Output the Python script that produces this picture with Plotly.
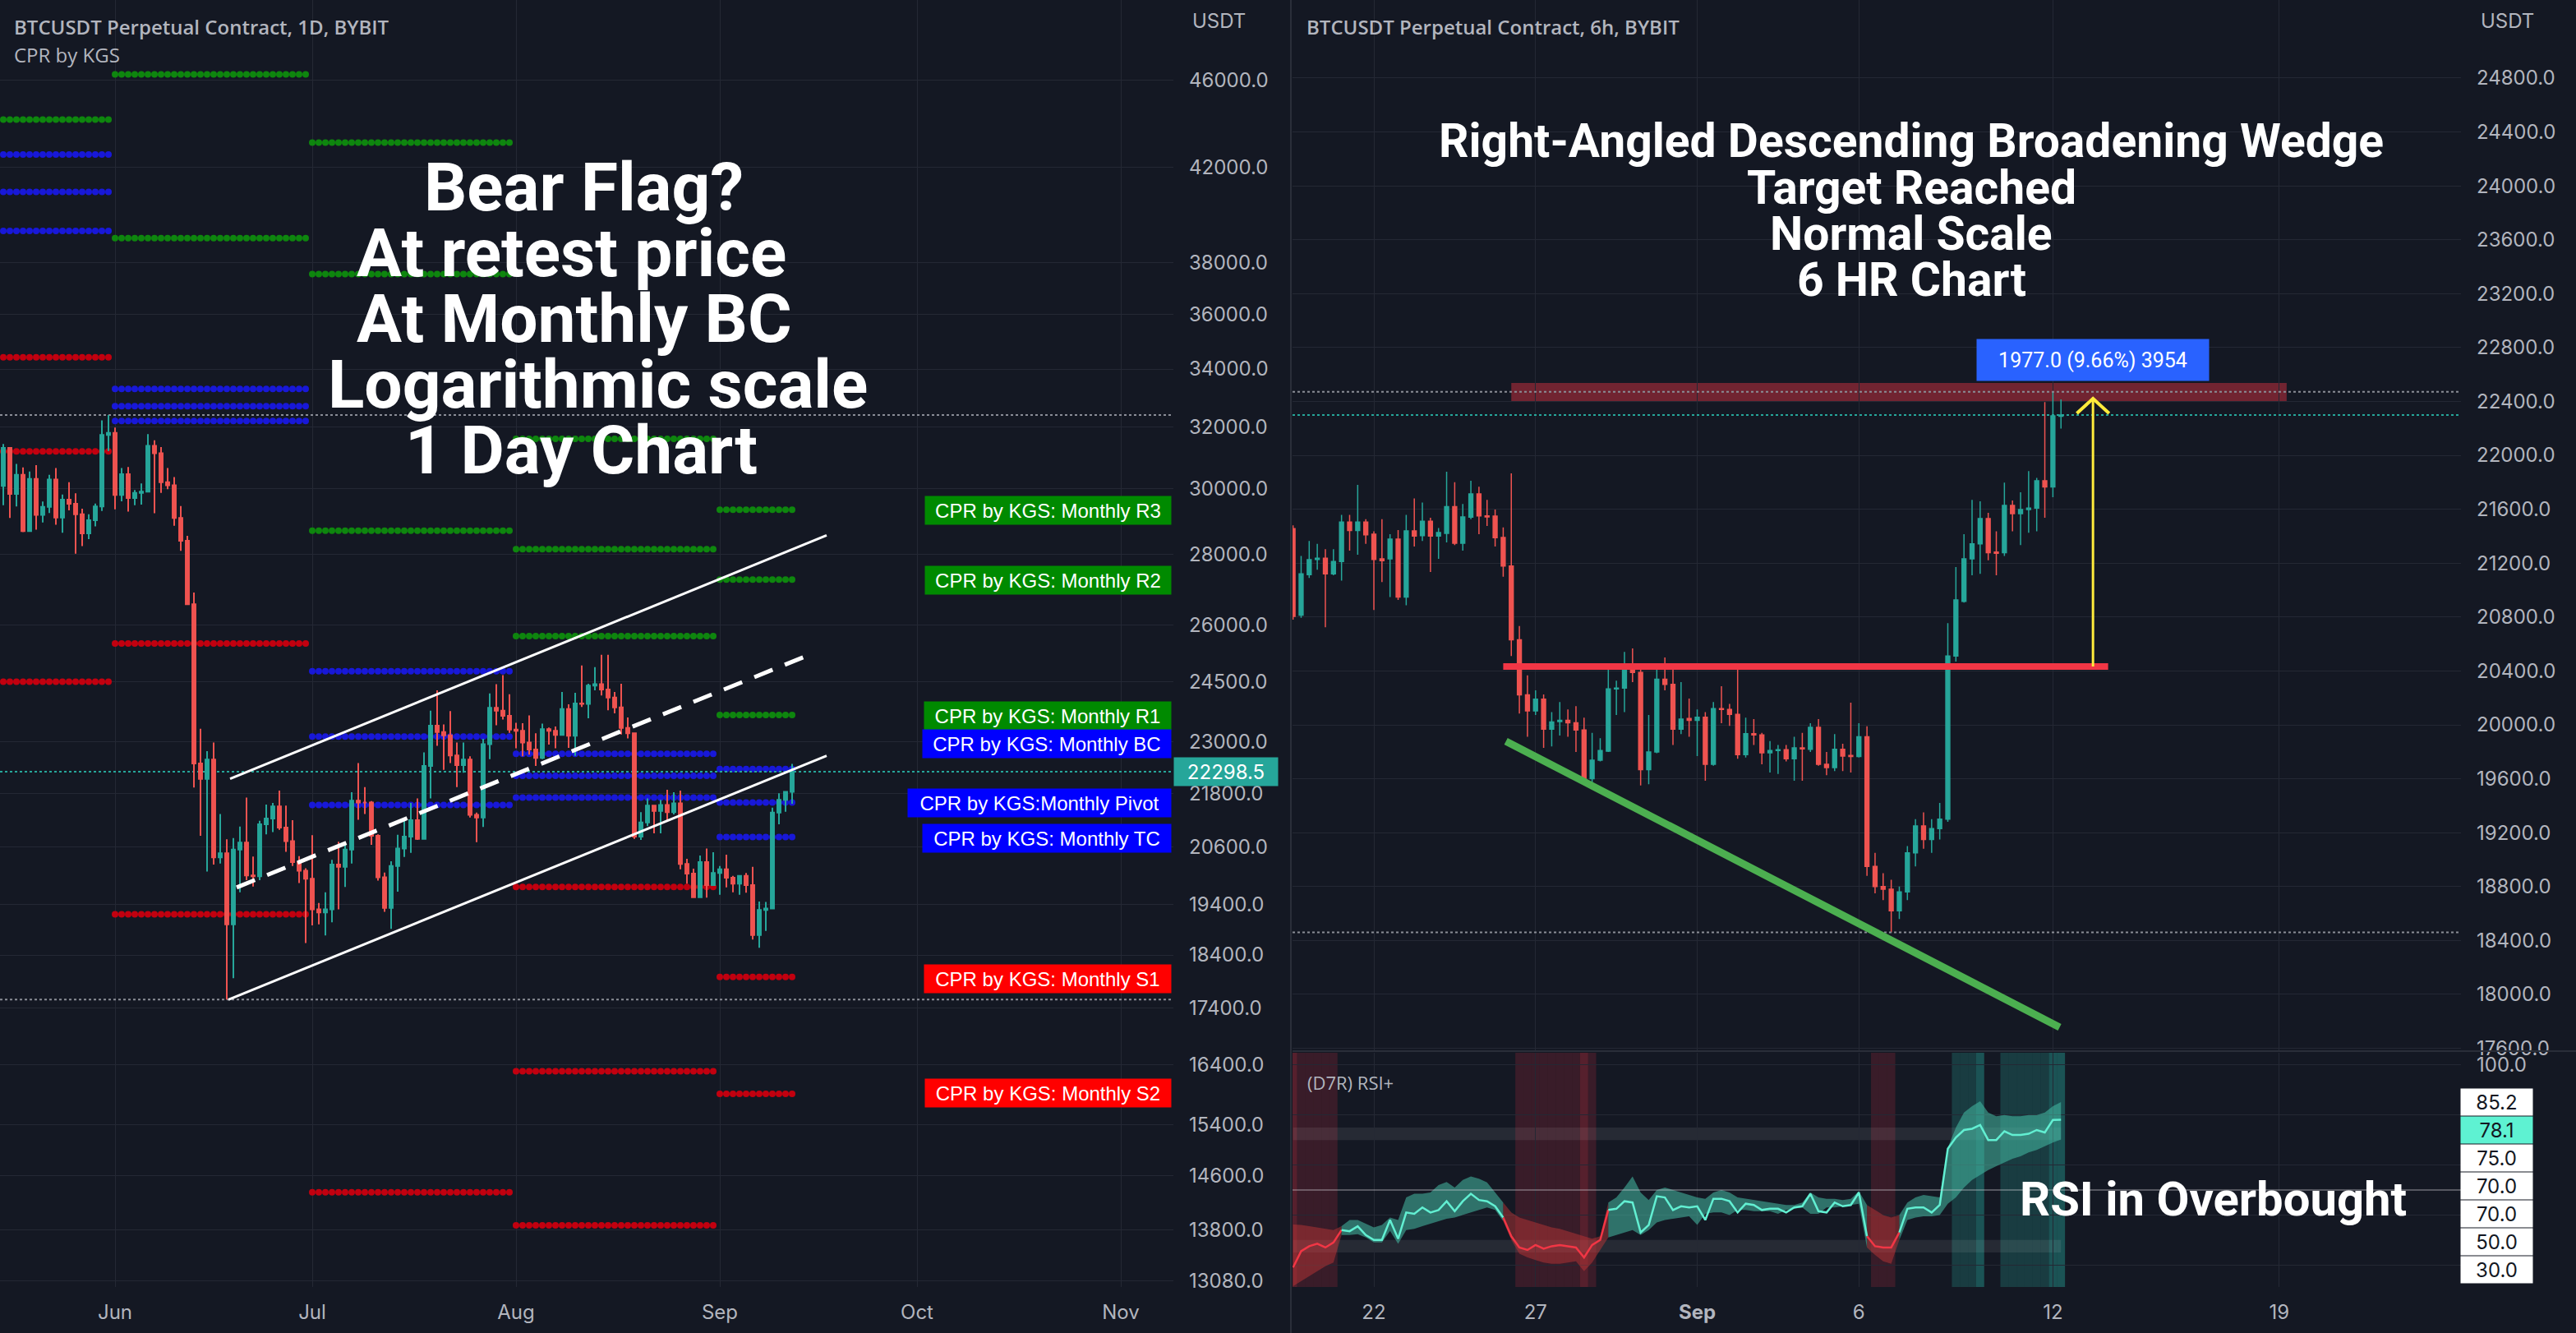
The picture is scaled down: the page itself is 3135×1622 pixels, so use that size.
import numpy as np
import pandas as pd
import plotly.graph_objects as go

W, H = 3135, 1622
BG = "#141823"
GRID = "#242834"
TXT = "#b2b5be"
UP = "#26a69a"
DN = "#ef5350"

def px(x):
    return x / W

def py(y):
    return 1 - y / H

# ---------------- LEFT PANEL DATA: BTCUSDT 1D (log scale) ----------------
d_start = "2022-05-14"
d_open = [29280, 30080, 31300, 29830, 30430, 28690, 30300, 29180, 29430, 30280, 29100, 29650, 29520, 29200, 28620, 29020, 29440, 31730,
          31800, 29800, 30450, 29700, 29860, 29900, 31370, 31130, 30200, 30100, 29090, 28400, 26570, 22490, 22130, 22580, 20380, 20470, 19000, 20550, 20700, 20000, 19980, 21100, 21230, 21500, 21030, 20730, 20280, 20100,
          19930, 19300, 19240, 19300, 20230, 20180, 20550, 21630, 21590, 21590, 20850, 19960, 19330, 20200, 20570, 20830, 21190, 20780, 22430, 23400, 23240, 23160, 22680, 22450, 22580, 21310, 21250, 22950, 23840, 23770, 23640,
          23300, 23270, 22990, 22820, 22620, 23310, 23270, 23170, 23810, 23150, 23950, 23940, 24400, 24440, 24300, 24100, 23850, 23340, 23210, 20830, 21140, 21520, 21400, 21530, 21370, 21570, 20240, 20040, 19550, 20280, 19800,
          20050, 20130, 19950, 19830, 19990, 19800, 18790, 19290, 19320, 21360, 21650, 21830]
d_high = [30300, 31430, 31300, 30780, 30670, 30540, 30740, 29590, 30430, 30650, 29810, 30200, 29850, 29370, 29200, 29530, 32220, 32400,
          31980, 30650, 30680, 29950, 30160, 31760, 31550, 31330, 30650, 30360, 29450, 28550, 26900, 23320, 22780, 22990, 21330, 20770, 20800, 21050, 21700, 20400, 21180, 21540, 21580, 21860, 21520, 21190, 20410, 20150,
          20860, 19430, 19650, 20330, 20720, 20650, 21820, 22500, 21940, 21620, 20880, 20060, 20300, 20870, 21180, 21580, 21680, 22750, 23770, 24280, 23430, 23760, 22990, 22990, 22660, 21360, 23080, 24200, 24440, 24670, 24180,
          23470, 23460, 23650, 23210, 23450, 23350, 23380, 24240, 23930, 24220, 24920, 24450, 24880, 25200, 25200, 24240, 24450, 23600, 23210, 21370, 21680, 21520, 21650, 21880, 21820, 21860, 20350, 20140, 20420, 20570, 20490,
          20200, 20440, 19990, 20000, 20050, 20180, 19460, 19450, 21470, 21800, 21850, 22480]
d_low = [28630, 29480, 29090, 29440, 28660, 28670, 28730, 28950, 29240, 28880, 28640, 29320, 28020, 28240, 28450, 28830, 29300, 31200,
         29350, 29600, 29280, 29480, 29500, 29880, 29230, 29860, 29980, 28850, 28100, 26560, 21930, 20850, 20080, 20230, 20250, 17560, 17960, 19650, 19900, 19770, 19900, 20880, 20930, 20980, 20500, 20200, 19840, 18630,
         18980, 19000, 18780, 19040, 19300, 19760, 20250, 21200, 21330, 20650, 19890, 19250, 18910, 19660, 20390, 20480, 20760, 20770, 21680, 22910, 22340, 22500, 21940, 22270, 21250, 20710, 21040, 22590, 23410, 23550, 23220,
         22850, 22660, 22700, 22430, 22590, 22940, 22850, 23160, 22860, 22670, 23860, 23580, 24280, 24150, 23780, 23700, 23180, 23090, 20780, 20760, 21060, 20900, 20900, 21160, 21320, 20130, 19830, 19550, 19550, 19540, 19800,
         19600, 19750, 19650, 19600, 19640, 18700, 18540, 18870, 19300, 21100, 21380, 21560]
d_close = [30080, 31300, 29830, 30430, 28690, 30300, 29180, 29430, 30280, 29100, 29650, 29520, 29200, 28620, 29020, 29440, 31730, 31800,
           29800, 30450, 29700, 29860, 29900, 31370, 31130, 30200, 30100, 29090, 28400, 26570, 22490, 22130, 22580, 20380, 20470, 19000, 20550, 20700, 20000, 19980, 21100, 21230, 21500, 21030, 20730, 20280, 20100, 19930,
           19300, 19240, 19300, 20230, 20180, 20550, 21630, 21590, 21590, 20850, 19960, 19330, 20200, 20570, 20830, 21190, 20780, 22430, 23400, 23240, 23160, 22680, 22450, 22580, 21310, 21250, 22950, 23840, 23770, 23640, 23300,
           23270, 22990, 22820, 22620, 23310, 23270, 23170, 23810, 23150, 23950, 23940, 24400, 24440, 24300, 24100, 23850, 23340, 23210, 20830, 21140, 21520, 21400, 21530, 21370, 21570, 20240, 20040, 19550, 20280, 19800, 20050,
           20130, 19950, 19830, 19990, 19800, 18790, 19290, 19320, 21360, 21650, 21830, 22298.5]

# Monthly CPR levels (None = off chart)
cpr_month_start = ["2022-05-01", "2022-06-01", "2022-07-01", "2022-08-01", "2022-09-01"]
cpr_month_end = ["2022-05-31", "2022-06-30", "2022-07-31", "2022-08-31", "2022-09-12"]
cpr_r3 = [None, None, 43100, 31600, 29340]
cpr_r2 = [None, 46300, 37560, 28150, 27270]
cpr_r1 = [44160, 39000, 28700, 25700, 23660]
cpr_bc = [42570, 33300, 24770, 21700, 22360]
cpr_pivot = [40930, 32700, 23130, 22200, 21590]
cpr_tc = [39290, 32200, 21530, 22720, 20820]
cpr_s1 = [34420, 25500, 14350, 19760, 17980]
cpr_s2 = [31190, 19200, None, 16290, 15910]
cpr_s3 = [24500, None, None, 13860, None]

left_price_ticks = [46000, 42000, 38000, 36000, 34000, 32000, 30000, 28000, 26000, 24500, 23000, 21800,
                    20600, 19400, 18400, 17400, 16400, 15400, 14600, 13800, 13080]
left_month_ticks = ["2022-06-01", "2022-07-01", "2022-08-01", "2022-09-01", "2022-10-01", "2022-11-01"]
left_month_labels = ["Jun", "Jul", "Aug", "Sep", "Oct", "Nov"]

# channel drawings
chan_lower_t = ["2022-06-18 06:00", "2022-09-17 06:00"]
chan_lower_p = [17560, 22670]
chan_upper_t = ["2022-06-18 12:00", "2022-09-17 06:00"]
chan_upper_p = [22130, 28560]
chan_mid_t = ["2022-06-19 12:00", "2022-09-13 18:00"]
chan_mid_p = [19750, 25140]

cpr_label_text = ["CPR by KGS: Monthly R3", "CPR by KGS: Monthly R2", "CPR by KGS: Monthly R1", "CPR by KGS: Monthly BC",
                  "CPR by KGS:Monthly Pivot", "CPR by KGS: Monthly TC", "CPR by KGS: Monthly S1", "CPR by KGS: Monthly S2"]
cpr_label_color = ["#008a00", "#008a00", "#008a00", "#0000ff", "#0000ff", "#0000ff", "#ff0000", "#ff0000"]

left_text_lines = ["Bear Flag?", "At retest price", "At Monthly BC", "Logarithmic scale", "1 Day Chart"]

# ---------------- RIGHT PANEL DATA: BTCUSDT 6h ----------------
h6_start = "2022-08-19 12:00"
h6_open = [21456, 20815, 21114, 21228, 21236, 21120, 21212, 21505, 21442, 21505,
           21415, 21232, 21232, 21379, 20948, 21440, 21405, 21511, 21401, 21421,
           21619, 21348, 21541, 21714, 21551, 21549, 21391, 21179, 20632, 20222,
           20104, 20191, 19968, 20024, 20033, 20016, 19962, 19600, 19738, 19805,
           20267, 20273, 20439, 20389, 19667, 19799, 20338, 20301, 19968, 20047,
           20033, 20057, 19708, 20120, 20114, 20078, 19779, 19935, 19925, 19793,
           19809, 19815, 19748, 19830, 19819, 19982, 19708, 19683, 19819, 19773,
           19765, 19911, 18950, 18800, 18780, 18620, 18760, 19050, 19250, 19150,
           19230, 19300, 20511, 20917, 21232, 21344, 21531, 21283, 21277, 21629,
           21568, 21598, 21608, 21812, 21765, 22290]
h6_high = [21480, 21253, 21364, 21344, 21303, 21303, 21558, 21558, 21781, 21527,
           21436, 21527, 21415, 21446, 21558, 21680, 21649, 21537, 21460, 21879,
           21801, 21639, 21812, 21767, 21669, 21598, 21466, 21867, 20734, 20368,
           20256, 20226, 20094, 20169, 20114, 20139, 20053, 19941, 19901, 20419,
           20328, 20541, 20567, 20409, 20073, 20450, 20500, 20409, 20317, 20195,
           20114, 20094, 20169, 20287, 20155, 20429, 20053, 20043, 19941, 19880,
           19850, 19850, 19911, 19941, 20012, 20043, 19799, 19931, 19860, 20165,
           20012, 19990, 19050, 18900, 18850, 18800, 19100, 19300, 19350, 19300,
           19420, 20755, 21171, 21415, 21669, 21659, 21574, 21436, 21797, 21665,
           21726, 21883, 21832, 22395, 22472, 22415]
h6_low = [20780, 20795, 21090, 21151, 20724, 21110, 21070, 21293, 21263, 21344,
          20852, 21059, 20948, 20927, 20887, 21324, 21364, 21135, 21232, 21354,
          21334, 21293, 21527, 21415, 21476, 21324, 21100, 20511, 20084, 19911,
          20073, 19830, 19840, 19921, 19911, 19799, 19560, 19540, 19728, 19799,
          20073, 20094, 20317, 19550, 19560, 19789, 20256, 19850, 19931, 19911,
          19769, 19586, 19697, 20012, 19992, 19748, 19758, 19850, 19708, 19646,
          19636, 19728, 19586, 19586, 19799, 19697, 19626, 19657, 19657, 19646,
          19758, 18880, 18750, 18700, 18460, 18560, 18700, 18950, 19080, 19050,
          19150, 19280, 20470, 20907, 21110, 21120, 21222, 21110, 21253, 21436,
          21334, 21425, 21436, 21537, 21690, 22198]
h6_close = [20805, 21120, 21226, 21236, 21120, 21212, 21505, 21442, 21505, 21411,
            21228, 21218, 21379, 20948, 21440, 21401, 21511, 21401, 21427, 21619,
            21348, 21543, 21714, 21551, 21543, 21389, 21179, 20632, 20222, 20104,
            20191, 19968, 20022, 20033, 20016, 19962, 19600, 19738, 19809, 20267,
            20273, 20409, 20389, 19667, 19799, 20338, 20301, 19968, 20043, 20033,
            20057, 19708, 20120, 20114, 20078, 19779, 19935, 19925, 19793, 19809,
            19815, 19748, 19830, 19821, 19982, 19708, 19683, 19819, 19769, 19765,
            19911, 18950, 18800, 18780, 18620, 18760, 19050, 19250, 19150, 19230,
            19300, 20511, 20927, 21232, 21344, 21531, 21277, 21273, 21629, 21568,
            21598, 21608, 21812, 21765, 22293, 22298.5]

right_price_ticks = [24800, 24400, 24000, 23600, 23200, 22800, 22400, 22000, 21600, 21200, 20800, 20400,
                     20000, 19600, 19200, 18800, 18400, 18000, 17600]
right_day_ticks = ["2022-08-22", "2022-08-27", "2022-09-01", "2022-09-06", "2022-09-12", "2022-09-19"]
right_day_labels = ["22", "27", "<b>Sep</b>", "6", "12", "19"]

res_t = ["2022-08-26 00:00", "2022-09-13 17:00"]
res_p = [20433, 20433]
sup_t = ["2022-08-26 02:00", "2022-09-12 05:00"]
sup_p = [19878, 17756]
zone_t = ["2022-08-26 06:00", "2022-09-19 05:30"]
zone_p = [22403, 22537]
arrow_t = "2022-09-13 05:45"
arrow_p = [20433, 22421]
measure_text = "1977.0 (9.66%) 3954"
measure_p = 22708

right_text_lines = ["Right-Angled Descending Broadening Wedge", "Target Reached", "Normal Scale", "6 HR Chart"]

# RSI (D7R RSI+) per 6h bar
rsi = [19, 25.5, 27.5, 28.5, 27, 29, 34, 33.5, 35.5, 32,
       30, 30, 38, 30.5, 41, 40.5, 43, 41, 42, 45.5,
       41.5, 45.5, 48.5, 46, 45.5, 43.5, 39, 31.5, 27, 26,
       28, 26.5, 27.5, 28, 27.5, 27, 23, 28, 30, 42,
       42.5, 45.5, 45, 33, 36, 47.5, 47, 42, 43.5, 43,
       43.5, 38, 46.5, 46.5, 45.5, 41, 44.5, 44, 42, 42.5,
       42.5, 41, 43, 43.5, 48.5, 41.5, 41, 45, 43.5, 44,
       49, 31.5, 27.5, 27, 27, 33, 42.5, 43, 43, 41,
       44, 66.5, 71, 74, 74.5, 76, 70, 70, 73.5, 72,
       72, 72.5, 74, 73, 78, 78.1]
rsi_upper = [36.2, 36, 35.5, 35, 34.5, 34,
             35.5, 38, 38, 36.5, 35, 36, 39, 38,
             47, 48.5, 48.5, 49, 52, 53.2, 51, 54, 55.4, 54.5, 53, 49,
             45, 41, 39, 38, 37, 36, 35, 34.5, 33.5, 32.5, 31.5, 30.5, 31.5,
             45, 47, 51, 55.4, 49, 46, 50, 51, 50, 49, 48, 47, 46.5, 49, 50, 49, 47, 46.5, 46, 45.5,
             45, 44.5, 44, 44, 45, 49, 47, 46.5, 46.5, 46, 46.5, 49.5,
             44, 42, 40, 39,
             40, 45, 47, 48, 47.5, 47, 66.9, 75, 81, 83.5, 85.5, 81, 79.5, 80, 79.5, 79.5, 80, 80, 81, 83.5, 85.2]
rsi_lower = [11.5, 13.5, 15.5, 17.5, 19.5, 21,
             32, 32, 32.3, 31, 29, 29, 33.6, 28.5,
             34, 34.5, 35.5, 36.5, 37.5, 38.5, 39, 40, 41, 42, 43, 42,
             37.5, 30, 24.5, 23, 22, 21, 20.5, 20.5, 21, 21.5, 17.5, 21, 26,
             31, 32, 33, 34, 32, 34, 37, 38, 38.5, 39, 39.5, 36, 40.5, 41, 41, 40, 42, 42, 41.5, 41.5,
             41.5, 40.5, 42, 42.5, 43, 40.5, 40.5, 43, 43, 43.5, 44, 44.5,
             27, 24, 21.5, 20.5,
             30, 38, 39, 39.5, 39.5, 40, 44.5, 47, 51, 54, 56, 58, 59.5, 61, 62.5, 63.5, 65, 66, 67.5, 69, 70.2]
rsi_zone_start = [0, 6, 26, 39, 71, 75]
rsi_zone_state = ["dn", "up", "dn", "up", "dn", "up"]
rsi_badges = ["85.2", "78.1", "75.0", "70.0", "70.0", "50.0", "30.0"]

# ---------------- BUILD ----------------
d_dates = pd.date_range(d_start, periods=len(d_close), freq="D")
h6_times = pd.date_range(h6_start, periods=len(h6_close), freq="6h")

lx0 = pd.Timestamp("2022-06-01") - pd.Timedelta(days=17.5)
lx1 = pd.Timestamp("2022-06-01") + pd.Timedelta(days=161)
ly_lo, ly_hi = 12994, 50050
rx0 = pd.Timestamp("2022-08-22") - pd.Timedelta(days=2.516)
rx1 = pd.Timestamp("2022-08-22") + pd.Timedelta(days=33.62)
ry_lo, ry_hi = 17579, 25379

fig = go.Figure()

# CPR dots (drawn on base y axis so candles overlay them)
groups = [([cpr_r3, cpr_r2, cpr_r1], "#0e860e"),
          ([cpr_bc, cpr_pivot, cpr_tc], "#1818d8"),
          ([cpr_s1, cpr_s2, cpr_s3], "#c2000f")]
for levels, color in groups:
    xs, ys = [], []
    for m in range(len(cpr_month_start)):
        days = pd.date_range(cpr_month_start[m], cpr_month_end[m], freq="D")
        for lev in levels:
            if lev[m] is not None:
                xs.extend(days)
                ys.extend([lev[m]] * len(days))
    fig.add_trace(go.Scatter(x=xs, y=ys, mode="markers", marker=dict(size=8, color=color, line=dict(width=0)),
                             xaxis="x", yaxis="y", hoverinfo="skip"))

# dotted hi / lo / last lines (left)
for val, col in [(max(d_high), "#8a8d96"), (min(d_low), "#8a8d96"), (d_close[-1], UP)]:
    fig.add_trace(go.Scatter(x=[lx0, lx1], y=[val, val], mode="lines",
                             line=dict(color=col, width=2, dash="dot"), xaxis="x", yaxis="y", hoverinfo="skip"))

# left candles on overlay axis
fig.add_trace(go.Candlestick(x=d_dates, open=d_open, high=d_high, low=d_low, close=d_close,
                             increasing=dict(line=dict(color=UP, width=2), fillcolor=UP),
                             decreasing=dict(line=dict(color=DN, width=2), fillcolor=DN),
                             whiskerwidth=0, xaxis="x", yaxis="y4", hoverinfo="skip"))
# channel
fig.add_trace(go.Scatter(x=chan_lower_t, y=chan_lower_p, mode="lines", line=dict(color="white", width=3),
                         xaxis="x", yaxis="y4", hoverinfo="skip"))
fig.add_trace(go.Scatter(x=chan_upper_t, y=chan_upper_p, mode="lines", line=dict(color="white", width=3),
                         xaxis="x", yaxis="y4", hoverinfo="skip"))
fig.add_trace(go.Scatter(x=chan_mid_t, y=chan_mid_p, mode="lines", line=dict(color="white", width=5, dash="24px,16px"),
                         xaxis="x", yaxis="y4", hoverinfo="skip"))

# right: dotted lines
for val, col in [(max(h6_high), "#8a8d96"), (min(h6_low), "#8a8d96"), (h6_close[-1], UP)]:
    fig.add_trace(go.Scatter(x=[rx0, rx1], y=[val, val], mode="lines",
                             line=dict(color=col, width=2, dash="dot"), xaxis="x2", yaxis="y2", hoverinfo="skip"))

fig.add_trace(go.Candlestick(x=h6_times, open=h6_open, high=h6_high, low=h6_low, close=h6_close,
                             increasing=dict(line=dict(color=UP, width=1.5), fillcolor=UP),
                             decreasing=dict(line=dict(color=DN, width=1.5), fillcolor=DN),
                             whiskerwidth=0, xaxis="x2", yaxis="y2", hoverinfo="skip"))
fig.add_trace(go.Scatter(x=res_t, y=res_p, mode="lines", line=dict(color="#f23645", width=8),
                         xaxis="x2", yaxis="y2", hoverinfo="skip"))
fig.add_trace(go.Scatter(x=sup_t, y=sup_p, mode="lines", line=dict(color="#4caf50", width=9),
                         xaxis="x2", yaxis="y2", hoverinfo="skip"))
at = pd.Timestamp(arrow_t)
half = pd.Timedelta(hours=12)
fig.add_trace(go.Scatter(x=[at, at], y=arrow_p, mode="lines", line=dict(color="#ffeb3b", width=3),
                         xaxis="x2", yaxis="y2", hoverinfo="skip"))
fig.add_trace(go.Scatter(x=[at - half, at, at + half], y=[arrow_p[1] - 110, arrow_p[1], arrow_p[1] - 110], mode="lines",
                         line=dict(color="#ffeb3b", width=4), xaxis="x2", yaxis="y2", hoverinfo="skip"))

# RSI fills & line
n = len(rsi)
for k, s in enumerate(rsi_zone_start):
    e = rsi_zone_start[k + 1] if k + 1 < len(rsi_zone_start) else n - 1
    sl = slice(s, e + 1)
    up = rsi_zone_state[k] == "up"
    fill = "rgba(70,190,165,0.55)" if up else "rgba(200,55,55,0.45)"
    fig.add_trace(go.Scatter(x=h6_times[sl], y=rsi_lower[sl], mode="lines", line=dict(width=0),
                             xaxis="x3", yaxis="y3", hoverinfo="skip"))
    fig.add_trace(go.Scatter(x=h6_times[sl], y=rsi_upper[sl], mode="lines", line=dict(width=0),
                             fill="tonexty", fillcolor=fill, xaxis="x3", yaxis="y3", hoverinfo="skip"))
for k, s in enumerate(rsi_zone_start):
    e = rsi_zone_start[k + 1] if k + 1 < len(rsi_zone_start) else n - 1
    sl = slice(s, e + 1)
    up = rsi_zone_state[k] == "up"
    fig.add_trace(go.Scatter(x=h6_times[sl], y=rsi[sl], mode="lines",
                             line=dict(color="#62efd2" if up else "#f23645", width=2.5),
                             xaxis="x3", yaxis="y3", hoverinfo="skip"))

shapes = []
# RSI background columns
for t, v in zip(h6_times, rsi):
    col = None
    if v > 75:
        col = "rgba(38,166,154,0.42)"
    elif v > 70:
        col = "rgba(38,166,154,0.25)"
    elif v < 25:
        col = "rgba(242,54,69,0.30)"
    elif v < 30:
        col = "rgba(242,54,69,0.17)"
    if col:
        shapes.append(dict(type="rect", xref="x3", yref="y3 domain", x0=t - pd.Timedelta(hours=3),
                           x1=t + pd.Timedelta(hours=3), y0=0, y1=1, fillcolor=col, line=dict(width=0), layer="below"))
# RSI bands
for lo, hi in [(70, 75), (25, 30)]:
    shapes.append(dict(type="rect", xref="x3", yref="y3", x0=h6_times[0], x1=h6_times[-1], y0=lo, y1=hi,
                       fillcolor="rgba(255,255,255,0.08)", line=dict(width=0), layer="below"))
shapes.append(dict(type="line", xref="x3 domain", yref="y3", x0=0, x1=1, y0=50, y1=50,
                   line=dict(color="rgba(210,210,215,0.35)", width=2)))
# target zone
shapes.append(dict(type="rect", xref="x2", yref="y2", x0=zone_t[0], x1=zone_t[1], y0=zone_p[0], y1=zone_p[1],
                   fillcolor="rgba(242,54,69,0.42)", line=dict(width=0), layer="below"))
# separators
shapes.append(dict(type="line", xref="paper", yref="paper", x0=px(1571), x1=px(1571), y0=0, y1=1,
                   line=dict(color="#2a2e39", width=2)))
shapes.append(dict(type="line", xref="paper", yref="paper", x0=px(1573), x1=1, y0=py(1279), y1=py(1279),
                   line=dict(color="#2a2e39", width=2)))

ann = []

def text(x, y, s, size, color=TXT, family="Inter", xanchor="left", yanchor="middle", weight="normal", **kw):
    d = dict(x=px(x), y=py(y), xref="paper", yref="paper", text=s, showarrow=False,
             font=dict(size=size, color=color, family=family, weight=weight),
             xanchor=xanchor, yanchor=yanchor)
    d.update(kw)
    return d

ann.append(text(15, 32, "BTCUSDT Perpetual Contract, 1D, BYBIT", 24, family="Open Sans", weight=600))
ann.append(text(15, 66, "CPR by KGS", 24, family="Open Sans"))
ann.append(text(1588, 32, "BTCUSDT Perpetual Contract, 6h, BYBIT", 24, family="Open Sans", weight=600))
ann.append(text(1449, 25, "USDT", 24))
ann.append(text(3017, 25, "USDT", 24))
ann.append(text(1589, 1317, "(D7R) RSI+", 22, family="Open Sans"))

left_cx = [710, 695, 699, 727, 707]
left_cy = [228, 308, 388, 468, 548]
for s, cx, cy in zip(left_text_lines, left_cx, left_cy):
    ann.append(text(cx, cy, s, 82, color="white", family="Roboto", xanchor="center", weight="bold"))
right_cy = [172, 228, 284, 340]
for s, cy in zip(right_text_lines, right_cy):
    ann.append(text(2326, cy, s, 57, color="white", family="Roboto", xanchor="center", weight="bold"))
ann.append(text(2693, 1459, "RSI in Overbought", 58, color="white", family="Roboto", xanchor="center", weight="bold"))

cpr_label_y = [621, 706, 871, 905, 977, 1020, 1191, 1330]
cpr_label_left = [1127, 1127, 1126, 1124, 1106, 1124, 1126, 1127]
for s, c, y, l in zip(cpr_label_text, cpr_label_color, cpr_label_y, cpr_label_left):
    ann.append(text(1426, y, s, 24, color="white", family="Liberation Sans", xanchor="right",
                    bgcolor=c, width=1426 - l, height=34, borderpad=0, align="center"))

# last-price badge on left axis
ann.append(dict(x=px(1428), xref="paper", y=np.log10(d_close[-1]), yref="y", text=f"{d_close[-1]:.1f}",
                showarrow=False, xanchor="left", yanchor="middle", bgcolor=UP, width=126, height=34, borderpad=0,
                font=dict(size=24, color="white", family="Inter"), align="center"))

# measurement label
ann.append(dict(x=at, xref="x2", y=measure_p, yref="y2", text=measure_text, showarrow=False,
                xanchor="center", yanchor="middle", bgcolor="#2962ff", width=266, height=34, borderpad=8,
                font=dict(size=25, color="white", family="Roboto"), align="center"))

# RSI badges
badge_y = [1341, 1375, 1409, 1443, 1477, 1511, 1545]
for s, y in zip(rsi_badges, badge_y):
    bg = "#5ef2d2" if s == f"{rsi[-1]:.1f}" else "white"
    ann.append(text(2994, y, s, 24, color="#131722", xanchor="left", bgcolor=bg, width=87, height=32,
                    borderpad=0, align="center"))

ax_font = dict(family="Inter", size=24, color=TXT)
common = dict(showline=False, zeroline=False, ticks="", automargin=False, fixedrange=True)

fig.update_layout(
    width=W, height=H, margin=dict(l=0, r=0, t=0, b=0),
    paper_bgcolor=BG, plot_bgcolor=BG, showlegend=False,
    shapes=shapes, annotations=ann, hovermode=False,
    xaxis=dict(domain=[0, px(1428)], anchor="y", type="date", range=[lx0, lx1],
               tickvals=left_month_ticks, ticktext=left_month_labels, showgrid=True, gridcolor=GRID, gridwidth=1,
               tickfont=ax_font, ticklabelstandoff=14, rangeslider=dict(visible=False), **common),
    yaxis=dict(domain=[1 - 1566 / H, 1], anchor="x", type="log", range=[np.log10(ly_lo), np.log10(ly_hi)],
               side="right", tickvals=left_price_ticks, ticktext=[f"{v:.1f}" for v in left_price_ticks],
               showgrid=True, gridcolor=GRID, gridwidth=1, tickfont=ax_font, ticklabelstandoff=18, **common),
    yaxis4=dict(overlaying="y", anchor="x", type="log", range=[np.log10(ly_lo), np.log10(ly_hi)],
                visible=False, showgrid=False, fixedrange=True),
    xaxis2=dict(domain=[px(1573), px(2995)], anchor="y2", type="date", range=[rx0, rx1],
                tickvals=right_day_ticks, showticklabels=False, showgrid=True, gridcolor=GRID,
                rangeslider=dict(visible=False), **common),
    yaxis2=dict(domain=[1 - 1279 / H, 1], anchor="x2", range=[ry_lo, ry_hi], side="right",
                tickvals=right_price_ticks, ticktext=[f"{v:.1f}" for v in right_price_ticks],
                showgrid=True, gridcolor=GRID, tickfont=ax_font, ticklabelstandoff=18, **common),
    xaxis3=dict(domain=[px(1573), px(2995)], anchor="y3", type="date", range=[rx0, rx1],
                tickvals=right_day_ticks, ticktext=right_day_labels, showgrid=True, gridcolor=GRID,
                tickfont=ax_font, ticklabelstandoff=14, rangeslider=dict(visible=False), **common),
    yaxis3=dict(domain=[1 - 1566 / H, 1 - 1281 / H], anchor="x3", range=[11.2, 104.9], side="right",
                tickvals=[20, 40, 60, 80, 100], ticktext=["", "", "", "", "100.0"],
                showgrid=True, gridcolor=GRID, tickfont=ax_font, ticklabelstandoff=18, **common),
)

fig.write_html("out.html", config={"displayModeBar": False})
